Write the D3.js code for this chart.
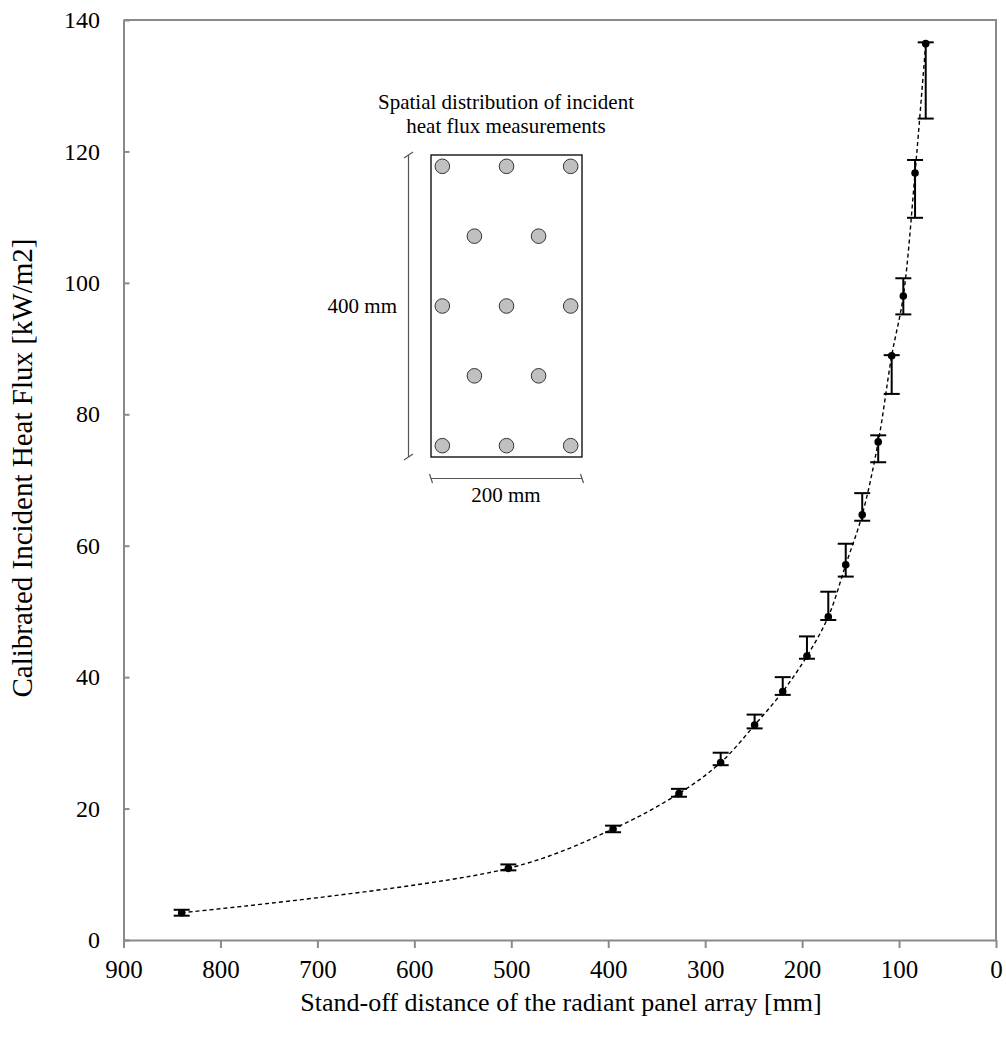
<!DOCTYPE html>
<html><head><meta charset="utf-8">
<script src="https://cdn.jsdelivr.net/npm/d3@7"></script>
<style>
body{margin:0;background:#fff}
text{font-family:"Liberation Serif","Times New Roman",serif;fill:#000}
</style>
</head><body>
<svg id="c" width="1006" height="1041"></svg>
<script>
// ---- data ----
const distance = [840, 503, 395, 327, 284, 249, 220, 195, 173, 155, 138, 121.5, 107.6, 95.6, 83.5, 72.5];
const heatFlux = [4.15, 10.9, 16.9, 22.3, 27.0, 32.7, 37.8, 43.2, 49.2, 57.1, 64.7, 75.8, 88.9, 98.0, 116.7, 136.4];
const fluxHigh = [4.6, 11.5, 17.4, 23.0, 28.5, 34.3, 40.0, 46.2, 53.0, 60.3, 68.0, 76.8, 89.0, 100.7, 118.7, 136.6];
const fluxLow  = [3.7, 10.6, 16.4, 21.8, 26.6, 32.2, 37.3, 42.8, 48.7, 55.3, 63.8, 72.7, 83.1, 95.2, 109.9, 125.0];
const xTicks = [900, 800, 700, 600, 500, 400, 300, 200, 100, 0];
const yTicks = [0, 20, 40, 60, 80, 100, 120, 140];
const xTitle = "Stand-off distance of the radiant panel array [mm]";
const yTitle = "Calibrated Incident Heat Flux [kW/m2]";
// inset: sensor layout on a 200 mm x 400 mm panel
const sensorX = [15, 100, 185, 57.5, 142.5, 15, 100, 185, 57.5, 142.5, 15, 100, 185];
const sensorY = [15, 15, 15, 107.5, 107.5, 200, 200, 200, 292.5, 292.5, 385, 385, 385];
const insetTitle = ["Spatial distribution of incident", "heat flux measurements"];
const panelWidthLabel = "200 mm";
const panelHeightLabel = "400 mm";

// ---- layout ----
const L = 123.5, R = 996, T = 20, B = 940;
const axisColor = "#8a8a8a";
const svg = d3.select("#c");

const x = d3.scaleLinear().domain([900, 0]).range([L, R]);
const y = d3.scaleLinear().domain([0, 140]).range([B, T]);

// plot border (top & right)
svg.append("path")
  .attr("d", `M${L},${T}H${R}V${B}`)
  .attr("fill", "none").attr("stroke", axisColor).attr("stroke-width", 2);

// x axis
const xAxis = svg.append("g").attr("transform", `translate(0,${B})`)
  .call(d3.axisBottom(x).tickValues(xTicks).tickSize(8).tickSizeOuter(0).tickPadding(12));
xAxis.attr("font-family", null).attr("font-size", null);
xAxis.select(".domain").attr("stroke", axisColor).attr("stroke-width", 2);
xAxis.selectAll(".tick line").attr("stroke", axisColor).attr("stroke-width", 2);
xAxis.selectAll(".tick text").attr("font-size", 25);

// y axis (ticks inward)
const yAxis = svg.append("g").attr("transform", `translate(${L},0)`)
  .call(d3.axisLeft(y).tickValues(yTicks).tickSize(-6).tickSizeOuter(0).tickPadding(23.5));
yAxis.attr("font-family", null).attr("font-size", null);
yAxis.select(".domain").attr("stroke", axisColor).attr("stroke-width", 2);
yAxis.selectAll(".tick line").attr("stroke", axisColor).attr("stroke-width", 2);
yAxis.selectAll(".tick text").attr("font-size", 24);

// titles
svg.append("text").attr("x", 561).attr("y", 1011).attr("text-anchor", "middle")
  .attr("font-size", 26).text(xTitle);
svg.append("text").attr("transform", "translate(32,468) rotate(-90)").attr("text-anchor", "middle")
  .attr("font-size", 29).text(yTitle);

// data
const pts = distance.map((d, i) => ({d, f: heatFlux[i], hi: fluxHigh[i], lo: fluxLow[i]}));

svg.append("path").datum(pts)
  .attr("d", d3.line().x(p => x(p.d)).y(p => y(p.f)).curve(d3.curveCatmullRom.alpha(0.5)))
  .attr("fill", "none").attr("stroke", "#000").attr("stroke-width", 1.4).attr("stroke-dasharray", "4,3");

const eb = svg.append("g").attr("stroke", "#000").attr("stroke-width", 2);
pts.forEach(p => {
  eb.append("line").attr("x1", x(p.d)).attr("x2", x(p.d)).attr("y1", y(p.lo)).attr("y2", y(p.hi));
  eb.append("line").attr("x1", x(p.d) - 8).attr("x2", x(p.d) + 8).attr("y1", y(p.lo)).attr("y2", y(p.lo));
  eb.append("line").attr("x1", x(p.d) - 8).attr("x2", x(p.d) + 8).attr("y1", y(p.hi)).attr("y2", y(p.hi));
});
svg.append("g").selectAll("circle").data(pts).join("circle")
  .attr("cx", p => x(p.d)).attr("cy", p => y(p.f)).attr("r", 3.8).attr("fill", "#000");

// ---- inset ----
const ix = d3.scaleLinear().domain([0, 200]).range([431, 582]);
const iy = d3.scaleLinear().domain([0, 400]).range([155, 457]);
const inset = svg.append("g");
inset.selectAll("text.title").data(insetTitle).join("text").attr("class", "title")
  .attr("x", 506).attr("y", (d, i) => 109 + i * 23.5).attr("text-anchor", "middle")
  .attr("font-size", 21).text(d => d);
inset.append("rect").attr("x", ix(0)).attr("y", iy(0)).attr("width", ix(200) - ix(0)).attr("height", iy(400) - iy(0))
  .attr("fill", "none").attr("stroke", "#000").attr("stroke-width", 1.3);
inset.selectAll("circle").data(sensorX.map((v, i) => [v, sensorY[i]])).join("circle")
  .attr("cx", d => ix(d[0])).attr("cy", d => iy(d[1])).attr("r", 7.3)
  .attr("fill", "#c0c0c0").attr("stroke", "#333").attr("stroke-width", 1);
// dimension lines
const dim = inset.append("g").attr("stroke", "#555").attr("stroke-width", 1.2);
dim.append("line").attr("x1", 408.5).attr("x2", 408.5).attr("y1", iy(0)).attr("y2", iy(400));
dim.append("line").attr("x1", 404).attr("x2", 413).attr("y1", iy(0) + 3).attr("y2", iy(0) - 3);
dim.append("line").attr("x1", 404).attr("x2", 413).attr("y1", iy(400) + 3).attr("y2", iy(400) - 3);
dim.append("line").attr("x1", ix(0)).attr("x2", ix(200)).attr("y1", 478.5).attr("y2", 478.5);
dim.append("line").attr("x1", ix(0) - 1.5).attr("x2", ix(0) + 1.5).attr("y1", 474).attr("y2", 483);
dim.append("line").attr("x1", ix(200) - 1.5).attr("x2", ix(200) + 1.5).attr("y1", 474).attr("y2", 483);
inset.append("text").attr("x", 397).attr("y", 313).attr("text-anchor", "end").attr("font-size", 21).text(panelHeightLabel);
inset.append("text").attr("x", 506).attr("y", 502).attr("text-anchor", "middle").attr("font-size", 21).text(panelWidthLabel);
</script>
</body></html>
